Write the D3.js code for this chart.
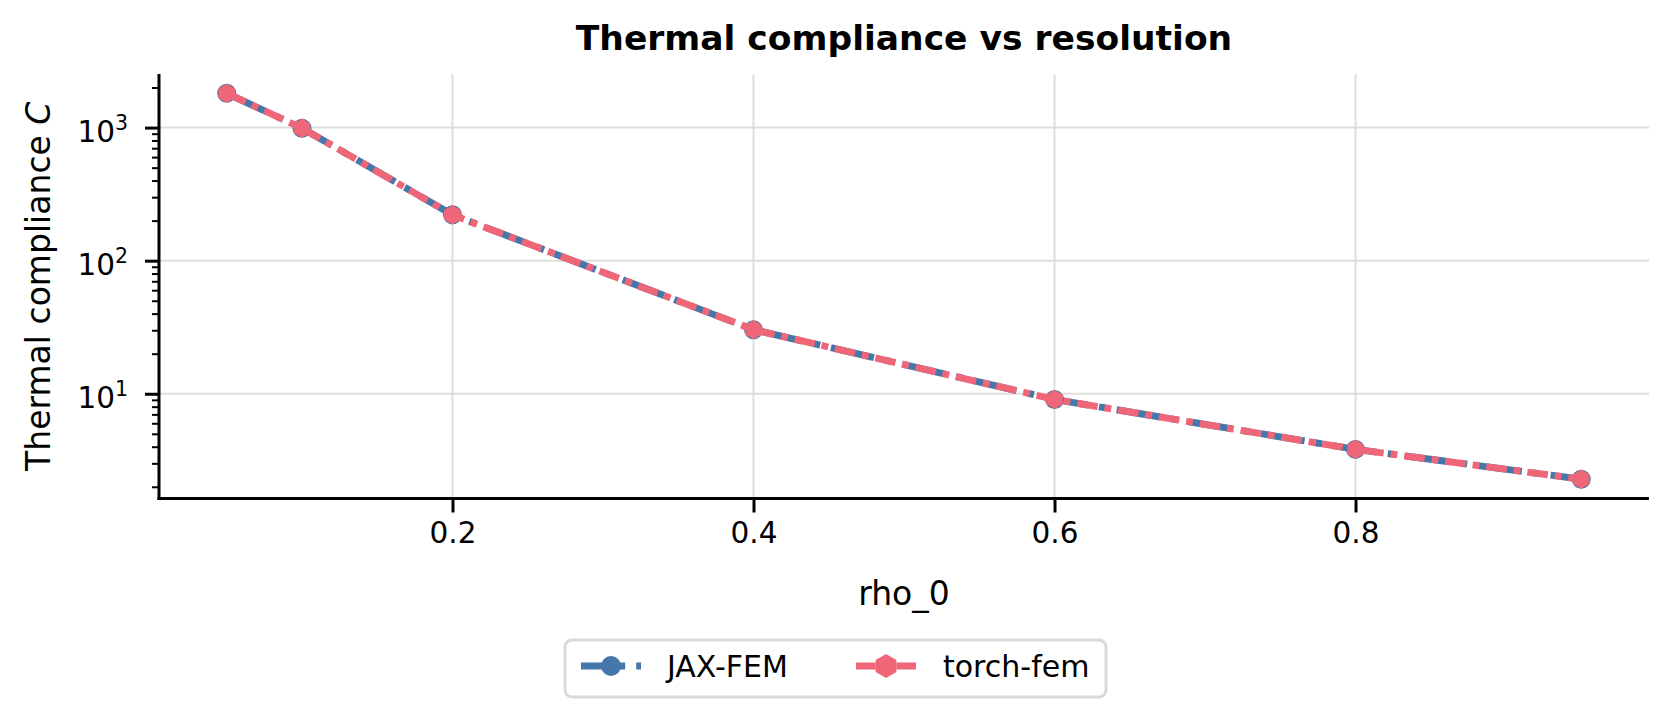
<!DOCTYPE html>
<html>
  <head>
    <title>Thermal compliance vs resolution</title>
    <script src="https://d3js.org/d3.v7.min.js"></script>
    <style>
      body {
        margin: 0;
        background-color: white;
      }
      svg text {
        font-family: 'DejaVu Sans', sans-serif;
        fill: black;
      }
    </style>
  </head>
  <body>
    <script>
      // values
      const rho = [0.05, 0.1, 0.2, 0.4, 0.6, 0.8, 0.95];
      const jaxFem = [1810, 990, 221, 30.3, 9.06, 3.82, 2.28];
      const torchFem = [1810, 990, 221, 30.3, 9.06, 3.82, 2.28];
      const xTicks = [0.2, 0.4, 0.6, 0.8];
      const yTicks = [10, 100, 1000];
      const seriesNames = ['JAX-FEM', 'torch-fem'];

      const w = 1672;
      const h = 712;
      const plotLeft = 159;
      const plotRight = 1649;
      const plotTop = 74;
      const plotBottom = 498.5;

      const blue = '#4477AA';
      const pink = '#EE6677';
      const lw = 6.9;

      // matplotlib-like 5% margins
      const xMin = d3.min(rho), xMax = d3.max(rho);
      const xPad = (xMax - xMin) * 0.05;
      const allY = jaxFem.concat(torchFem);
      const lMin = Math.log10(d3.min(allY)), lMax = Math.log10(d3.max(allY));
      const lPad = (lMax - lMin) * 0.05;

      const xScale = d3.scaleLinear()
                       .domain([xMin - xPad, xMax + xPad])
                       .range([plotLeft, plotRight]);

      const yScale = d3.scaleLog()
                       .domain([Math.pow(10, lMin - lPad), Math.pow(10, lMax + lPad)])
                       .range([plotBottom, plotTop]);

      const svg = d3.select('body')
                    .append('svg')
                    .attr('width', w)
                    .attr('height', h);

      // grid
      svg.append('g')
         .selectAll('line')
         .data(xTicks)
         .join('line')
         .attr('x1', d => xScale(d)).attr('x2', d => xScale(d))
         .attr('y1', plotTop).attr('y2', plotBottom)
         .attr('stroke', '#dedede').attr('stroke-width', 2);

      svg.append('g')
         .selectAll('line')
         .data(yTicks)
         .join('line')
         .attr('x1', plotLeft).attr('x2', plotRight)
         .attr('y1', d => yScale(d)).attr('y2', d => yScale(d))
         .attr('stroke', '#dedede').attr('stroke-width', 2);

      // minor y ticks
      const [d0, d1] = yScale.domain();
      const minors = [];
      for (let e = Math.floor(Math.log10(d0)); e <= Math.ceil(Math.log10(d1)); e++) {
        for (let m = 2; m <= 9; m++) {
          const v = m * Math.pow(10, e);
          if (v >= d0 && v <= d1) minors.push(v);
        }
      }

      const yMinor = d3.axisLeft(yScale).tickValues(minors).tickSize(7).tickFormat('');
      svg.append('g')
         .attr('transform', `translate(${plotLeft}, 0)`)
         .call(yMinor)
         .call(g => g.select('.domain').remove())
         .call(g => g.selectAll('.tick line').attr('stroke-width', 2));

      const yAxis = d3.axisLeft(yScale).tickValues(yTicks).tickSize(14).tickPadding(17);
      const yG = svg.append('g')
                    .attr('id', 'y-axis')
                    .attr('transform', `translate(${plotLeft}, 0)`)
                    .call(yAxis);
      yG.select('.domain').remove();
      yG.selectAll('.tick line').attr('stroke-width', 3);
      yG.selectAll('.tick text')
        .attr('font-size', 29.5)
        .attr('dy', 14)
        .attr('font-family', 'DejaVu Sans')
        .each(function(d) {
          const t = d3.select(this).text('');
          t.append('tspan').text('10');
          t.append('tspan')
           .attr('font-size', 20.5)
           .attr('dy', -12)
           .text(Math.round(Math.log10(d)));
        });

      const xAxis = d3.axisBottom(xScale).tickValues(xTicks).tickSize(14).tickPadding(10)
                      .tickFormat(d3.format('.1f'));
      const xG = svg.append('g')
                    .attr('id', 'x-axis')
                    .attr('transform', `translate(0, ${plotBottom})`)
                    .call(xAxis);
      xG.select('.domain').remove();
      xG.selectAll('.tick line').attr('stroke-width', 3);
      xG.selectAll('.tick text')
        .attr('font-size', 29.5)
        .attr('font-family', 'DejaVu Sans');

      // spines
      svg.append('line')
         .attr('x1', plotLeft).attr('x2', plotLeft).attr('y1', plotTop).attr('y2', plotBottom + 1.5)
         .attr('stroke', 'black').attr('stroke-width', 3);
      svg.append('line')
         .attr('x1', plotLeft - 1.5).attr('x2', plotRight).attr('y1', plotBottom).attr('y2', plotBottom)
         .attr('stroke', 'black').attr('stroke-width', 3);

      // hexagon path, pointy top
      const hexagon = r => {
        const pts = d3.range(6).map(i => {
          const a = -Math.PI / 2 + i * Math.PI / 3;
          return [r * Math.cos(a), r * Math.sin(a)];
        });
        return 'M' + pts.map(p => p.join(',')).join('L') + 'Z';
      };

      const line = d3.line()
                     .x(d => xScale(d[0]))
                     .y(d => yScale(d[1]));

      const jaxData = rho.map((r, i) => [r, jaxFem[i]]);
      const torchData = rho.map((r, i) => [r, torchFem[i]]);
      // blue: default dash-dot, pink: short dash-dot (3,1,1,1), both scaled by line width
      const dashDot = [6.4, 1.6, 1, 1.6].map(v => v * lw).join(',');
      const dashDotShort = [3, 1, 1, 1].map(v => v * lw).join(',');

      svg.append('path')
         .datum(jaxData)
         .attr('d', line)
         .attr('fill', 'none')
         .attr('stroke', blue)
         .attr('stroke-width', lw)
         .attr('stroke-dasharray', dashDot);

      svg.append('g')
         .selectAll('circle')
         .data(jaxData)
         .join('circle')
         .attr('cx', d => xScale(d[0]))
         .attr('cy', d => yScale(d[1]))
         .attr('r', 9.5)
         .attr('fill', blue);

      svg.append('path')
         .datum(torchData)
         .attr('d', line)
         .attr('fill', 'none')
         .attr('stroke', pink)
         .attr('stroke-width', lw)
         .attr('stroke-dasharray', dashDotShort);

      svg.append('g')
         .selectAll('path')
         .data(torchData)
         .join('path')
         .attr('transform', d => `translate(${xScale(d[0])}, ${yScale(d[1])})`)
         .attr('d', hexagon(9.6))
         .attr('fill', pink);

      // title and labels
      svg.append('text')
         .attr('x', (plotLeft + plotRight) / 2)
         .attr('y', 50)
         .attr('text-anchor', 'middle')
         .attr('font-size', 34.5)
         .attr('font-weight', 'bold')
         .text('Thermal compliance vs resolution');

      svg.append('text')
         .attr('x', (plotLeft + plotRight) / 2)
         .attr('y', 605)
         .attr('text-anchor', 'middle')
         .attr('font-size', 33)
         .text('rho_0');

      const yLab = svg.append('text')
                      .attr('transform', `translate(50, ${(plotTop + plotBottom) / 2}) rotate(-90)`)
                      .attr('text-anchor', 'middle')
                      .attr('font-size', 33);
      yLab.append('tspan').text('Thermal compliance ');
      yLab.append('tspan').attr('font-style', 'italic').text('C');

      // legend
      const legend = svg.append('g');
      legend.append('rect')
            .attr('x', 565).attr('y', 640)
            .attr('width', 541).attr('height', 57)
            .attr('rx', 7)
            .attr('fill', 'white')
            .attr('stroke', '#d9d9d9')
            .attr('stroke-width', 3);

      const items = [
        {name: seriesNames[0], color: blue, dash: dashDot, offset: 0, marker: 'circle', x: 581, tx: 667},
        {name: seriesNames[1], color: pink, dash: dashDotShort, offset: 1.05, marker: 'hex', x: 856, tx: 943}
      ];
      const hl = 60;
      items.forEach(it => {
        const g = legend.append('g').attr('transform', `translate(${it.x}, 666)`);
        g.append('line')
         .attr('x1', 0).attr('x2', hl)
         .attr('stroke', it.color)
         .attr('stroke-width', lw)
         .attr('stroke-dasharray', it.dash)
         .attr('stroke-dashoffset', it.offset);
        if (it.marker === 'circle') {
          g.append('circle').attr('cx', hl / 2).attr('r', 10).attr('fill', it.color);
        } else {
          g.append('path').attr('transform', `translate(${hl / 2}, 0)`)
           .attr('d', hexagon(12)).attr('fill', it.color);
        }
        legend.append('text')
              .attr('x', it.tx).attr('y', 677)
              .attr('font-size', 30)
              .text(it.name);
      });
    </script>
  </body>
</html>
